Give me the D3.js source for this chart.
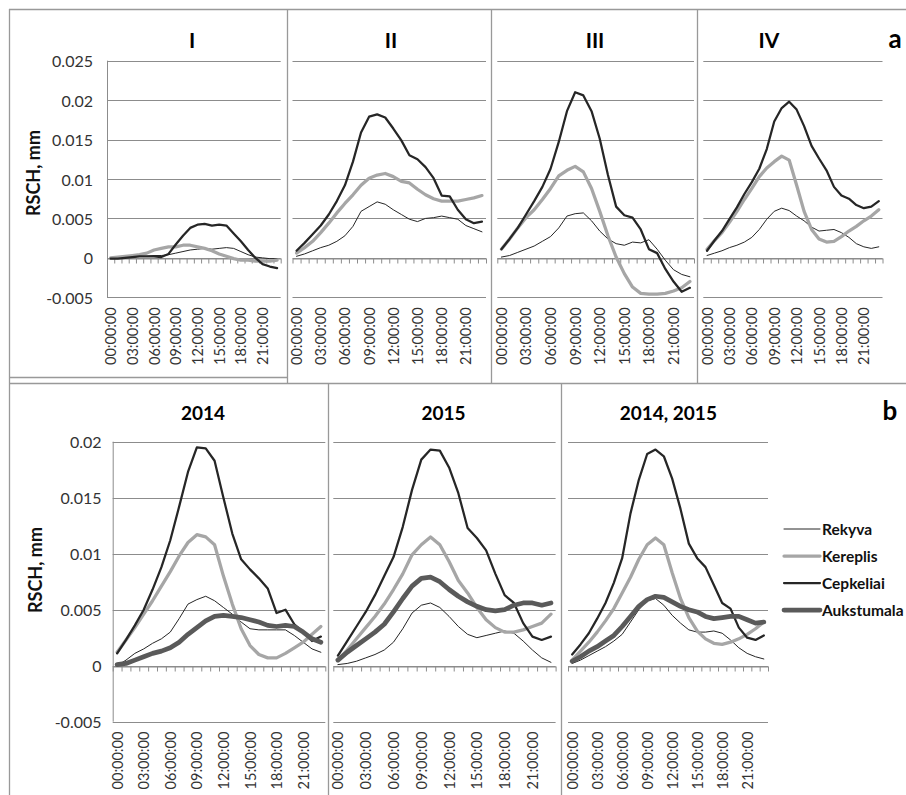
<!DOCTYPE html>
<html>
<head>
<meta charset="utf-8">
<script src="https://cdn.jsdelivr.net/npm/d3@7"></script>
<style>
  html, body { margin: 0; padding: 0; background: #fff; }
  svg { display: block; }
  text { font-family: Lato, "Open Sans", "Liberation Sans", sans-serif; }
</style>
</head>
<body>
<svg id="chart" width="906" height="795"></svg>
<script>
// Hourly categories
const hourLabels = [
  "00:00:00","01:00:00","02:00:00","03:00:00","04:00:00","05:00:00",
  "06:00:00","07:00:00","08:00:00","09:00:00","10:00:00","11:00:00",
  "12:00:00","13:00:00","14:00:00","15:00:00","16:00:00","17:00:00",
  "18:00:00","19:00:00","20:00:00","21:00:00","22:00:00","23:00:00"
];
const seriesNames = ["Rekyva", "Kereplis", "Cepkeliai", "Aukstumala"];
const topTicks = [-0.005, 0, 0.005, 0.01, 0.015, 0.02, 0.025];
const bottomTicks = [-0.005, 0, 0.005, 0.01, 0.015, 0.02];

// (a) periods I–IV
const rekyva_I    = [0,0,0.0001,0.0001,0.0002,0.0002,0.0003,0.0003,0.0004,0.0006,0.0008,0.001,0.0011,0.0012,0.0011,0.0012,0.0013,0.0012,0.0008,0.0004,0.0001,0,-0.0001,-0.0001];
const kereplis_I  = [0,0.0001,0.0002,0.0003,0.0004,0.0006,0.001,0.0012,0.0014,0.0014,0.0016,0.0016,0.0014,0.0012,0.0009,0.0005,0.0002,-0.0001,-0.0003,-0.0003,-0.0004,-0.0004,-0.0004,-0.0003];
const cepkeliai_I = [-0.0001,-0.0001,0,0.0001,0.0002,0.0002,0.0002,0.0001,0.0005,0.0017,0.0028,0.0038,0.0042,0.0043,0.0041,0.0042,0.0041,0.0031,0.0021,0.001,0,-0.0008,-0.0011,-0.0013];

const rekyva_II    = [0.0002,0.0005,0.0009,0.0013,0.0016,0.0021,0.0028,0.004,0.0059,0.0065,0.0071,0.0068,0.0061,0.0055,0.0049,0.0046,0.005,0.0051,0.0053,0.0051,0.0049,0.0041,0.0037,0.0033];
const kereplis_II  = [0.0006,0.0013,0.0021,0.0032,0.0044,0.0057,0.0069,0.008,0.0092,0.0101,0.0105,0.0107,0.0103,0.0097,0.0095,0.0087,0.008,0.0075,0.0072,0.0072,0.0072,0.0074,0.0076,0.0079];
const cepkeliai_II = [0.0009,0.0019,0.003,0.0041,0.0055,0.0072,0.0092,0.0122,0.0159,0.0179,0.0182,0.0178,0.0164,0.0149,0.013,0.0125,0.0115,0.0101,0.0079,0.0078,0.0061,0.0049,0.0044,0.0046];

const rekyva_III    = [0.0001,0.0003,0.0007,0.0011,0.0015,0.0021,0.0027,0.0038,0.0053,0.0056,0.0057,0.0047,0.0034,0.0024,0.0018,0.0016,0.002,0.0019,0.0023,0.0011,-0.0003,-0.0015,-0.0021,-0.0024];
const kereplis_III  = [0.0011,0.0024,0.0038,0.0051,0.0061,0.0074,0.0088,0.0104,0.0111,0.0116,0.0109,0.0088,0.0059,0.0028,0.0001,-0.002,-0.0037,-0.0045,-0.0046,-0.0046,-0.0045,-0.0042,-0.0038,-0.003];
const cepkeliai_III = [0.0011,0.0024,0.0038,0.0055,0.0072,0.009,0.0113,0.0147,0.0186,0.021,0.0206,0.0186,0.0151,0.0105,0.0065,0.0054,0.0051,0.0036,0.0011,0.0006,-0.0014,-0.003,-0.0043,-0.0038];

const rekyva_IV    = [0.0003,0.0006,0.0009,0.0013,0.0016,0.002,0.0026,0.0036,0.0049,0.0059,0.0063,0.006,0.0053,0.0047,0.0039,0.0034,0.0035,0.0036,0.0032,0.0026,0.0018,0.0014,0.0012,0.0014];
const kereplis_IV  = [0.0011,0.0022,0.0032,0.0045,0.0059,0.0074,0.0088,0.0103,0.0114,0.0122,0.0129,0.0124,0.0092,0.0059,0.0036,0.0024,0.002,0.0021,0.0027,0.0034,0.004,0.0047,0.0053,0.0061];
const cepkeliai_IV = [0.0009,0.0022,0.0034,0.0049,0.0064,0.0081,0.0096,0.0113,0.0138,0.0173,0.019,0.0198,0.0188,0.0167,0.0142,0.0126,0.0111,0.009,0.0079,0.0075,0.0067,0.0063,0.0065,0.0072];

// (b) years
const rekyva_2014     = [0,0.0005,0.0011,0.0015,0.002,0.0024,0.003,0.0042,0.0055,0.0059,0.0062,0.0058,0.0052,0.0046,0.0039,0.0033,0.0032,0.0032,0.0032,0.0032,0.0027,0.0021,0.0015,0.0012];
const kereplis_2014   = [0.0012,0.0023,0.0034,0.0046,0.0058,0.0071,0.0084,0.0098,0.011,0.0117,0.0115,0.0108,0.008,0.0055,0.0033,0.0018,0.001,0.0007,0.0007,0.0011,0.0016,0.0021,0.0028,0.0035];
const cepkeliai_2014  = [0.0011,0.0023,0.0036,0.005,0.0068,0.0088,0.0112,0.0142,0.0173,0.0195,0.0194,0.0183,0.015,0.0118,0.0095,0.0086,0.0078,0.0069,0.0047,0.005,0.0037,0.003,0.0022,0.0026];
const aukstumala_2014 = [0.0001,0.0002,0.0005,0.0008,0.0011,0.0013,0.0016,0.0021,0.0028,0.0034,0.004,0.0044,0.0045,0.0044,0.0043,0.0041,0.0039,0.0036,0.0035,0.0036,0.0035,0.003,0.0024,0.0021];

const rekyva_2015     = [0.0001,0.0002,0.0004,0.0007,0.001,0.0014,0.0021,0.0033,0.0047,0.0054,0.0056,0.0052,0.0044,0.0035,0.0028,0.0025,0.0027,0.0029,0.0031,0.0029,0.0022,0.0014,0.0007,0.0003];
const kereplis_2015   = [0.0005,0.0014,0.0024,0.0034,0.0044,0.0055,0.0068,0.0082,0.0099,0.0108,0.0115,0.0108,0.0093,0.0076,0.0065,0.0052,0.0041,0.0034,0.003,0.003,0.0032,0.0035,0.0038,0.0046];
const cepkeliai_2015  = [0.0009,0.0022,0.0035,0.0048,0.0063,0.008,0.0097,0.0124,0.0157,0.0184,0.0193,0.0192,0.0177,0.0154,0.0123,0.0114,0.0103,0.0082,0.0063,0.0056,0.0038,0.0026,0.0023,0.0026];
const aukstumala_2015 = [0.0005,0.0012,0.0018,0.0024,0.003,0.0037,0.0048,0.006,0.0071,0.0078,0.0079,0.0075,0.0068,0.0062,0.0057,0.0053,0.005,0.0049,0.005,0.0054,0.0056,0.0056,0.0054,0.0056];

const rekyva_2014_2015     = [0.0002,0.0005,0.0009,0.0013,0.0017,0.0022,0.0028,0.0039,0.005,0.0058,0.006,0.0054,0.0045,0.0038,0.0032,0.003,0.003,0.0031,0.0029,0.0023,0.0016,0.0011,0.0008,0.0006];
const kereplis_2014_2015   = [0.0005,0.0013,0.0021,0.003,0.004,0.0051,0.0065,0.0079,0.0095,0.0108,0.0114,0.0108,0.0083,0.006,0.0043,0.0031,0.0024,0.002,0.0019,0.0021,0.0024,0.0028,0.0033,0.0039];
const cepkeliai_2014_2015  = [0.001,0.0019,0.0029,0.0042,0.0056,0.0074,0.0096,0.0136,0.0166,0.0189,0.0193,0.0187,0.0167,0.014,0.0109,0.0096,0.0088,0.0072,0.0056,0.0051,0.0034,0.0025,0.0023,0.0027];
const aukstumala_2014_2015 = [0.0004,0.0008,0.0013,0.0017,0.0022,0.0027,0.0035,0.0044,0.0053,0.0059,0.0062,0.0061,0.0057,0.0053,0.005,0.0048,0.0044,0.0042,0.0043,0.0044,0.0044,0.0041,0.0038,0.0039];

// Line styles per station
const styles = {
  Rekyva:     { color: "#262626", width: 1 },
  Kereplis:   { color: "#a6a6a6", width: 3.25 },
  Cepkeliai:  { color: "#262626", width: 2.25 },
  Aukstumala: { color: "#5a5a5a", width: 4.75 }
};

const GRID = "#8c8c8c";
const TEXT = "#333";

const svg = d3.select("#chart");

// Panel frames
const frames = [
  [9, 9.5, 906, 9.5],
  [9.5, 9, 9.5, 795],
  [287.5, 9, 287.5, 383],
  [9, 377.5, 287.5, 377.5],
  [287, 383.5, 906, 383.5],
  [9, 383.5, 287, 383.5],
  [491.5, 9, 491.5, 383],
  [697.5, 9, 697.5, 383],
  [328.5, 383, 328.5, 795],
  [561.5, 383, 561.5, 795]
];
svg.append("g").selectAll("line").data(frames).join("line")
  .attr("x1", d => d[0]).attr("y1", d => d[1])
  .attr("x2", d => d[2]).attr("y2", d => d[3])
  .attr("stroke", "#999").attr("stroke-width", 1.3);

const topY = d3.scaleLinear().domain([-0.005, 0.025]).range([297.3, 60.7]);
const botY = d3.scaleLinear().domain([-0.005, 0.02]).range([721.7, 441.7]);

const panels = [
  { title: "I",   titleX: 192, titleY: 48, x0: 107,   x1: 280.7, y: topY, ticks: topTicks, yAxis: true, labelEnd: 93,
    series: { Rekyva: rekyva_I, Kereplis: kereplis_I, Cepkeliai: cepkeliai_I } },
  { title: "II",  titleX: 391, titleY: 48, x0: 292.5, x1: 486,   y: topY, ticks: topTicks,
    series: { Rekyva: rekyva_II, Kereplis: kereplis_II, Cepkeliai: cepkeliai_II } },
  { title: "III", titleX: 595, titleY: 48, x0: 497.3, x1: 694,   y: topY, ticks: topTicks,
    series: { Rekyva: rekyva_III, Kereplis: kereplis_III, Cepkeliai: cepkeliai_III } },
  { title: "IV",  titleX: 769, titleY: 48, x0: 703.3, x1: 882.5, y: topY, ticks: topTicks,
    series: { Rekyva: rekyva_IV, Kereplis: kereplis_IV, Cepkeliai: cepkeliai_IV } },
  { title: "2014", titleX: 203, titleY: 420, x0: 112.7, x1: 325.3, y: botY, ticks: bottomTicks, yAxis: true, labelEnd: 101.5, small: true,
    series: { Rekyva: rekyva_2014, Kereplis: kereplis_2014, Cepkeliai: cepkeliai_2014, Aukstumala: aukstumala_2014 } },
  { title: "2015", titleX: 443.5, titleY: 420, x0: 333.3, x1: 555.6, y: botY, ticks: bottomTicks, small: true,
    series: { Rekyva: rekyva_2015, Kereplis: kereplis_2015, Cepkeliai: cepkeliai_2015, Aukstumala: aukstumala_2015 } },
  { title: "2014, 2015", titleX: 668.3, titleY: 420, x0: 568, x1: 768, y: botY, ticks: bottomTicks, small: true,
    series: { Rekyva: rekyva_2014_2015, Kereplis: kereplis_2014_2015, Cepkeliai: cepkeliai_2014_2015, Aukstumala: aukstumala_2014_2015 } }
];

panels.forEach(p => {
  const g = svg.append("g");
  const x = d3.scaleBand().domain(hourLabels).range([p.x0, p.x1]).padding(0);
  const cx = d => x(d) + x.bandwidth() / 2;
  const y = p.y;
  const [yMin, yMax] = y.domain();

  // horizontal gridlines
  g.append("g").selectAll("line").data(p.ticks).join("line")
    .attr("x1", p.x0).attr("x2", p.x1)
    .attr("y1", d => Math.round(y(d)) + 0.5).attr("y2", d => Math.round(y(d)) + 0.5)
    .attr("stroke", GRID).attr("stroke-width", 1);

  // category axis at zero with tick marks between categories
  const xi = d3.scaleLinear().domain([0, hourLabels.length]).range([p.x0, p.x1]);
  const xAxis = d3.axisBottom(xi).tickValues(d3.range(hourLabels.length + 1))
    .tickSize(5).tickSizeOuter(0).tickFormat("");
  const ax = g.append("g").attr("transform", `translate(0,${Math.round(y(0)) + 0.5})`).call(xAxis);
  ax.select(".domain").attr("stroke", GRID);
  ax.selectAll(".tick line").attr("stroke", GRID);

  // hour labels below the plot area
  const labelY = y(yMin) + 10;
  g.append("g").selectAll("text")
    .data(hourLabels.filter((d, i) => i % 3 === 0)).join("text")
    .attr("transform", d => `translate(${cx(d)},${labelY}) rotate(-90)`)
    .attr("text-anchor", "end").attr("dominant-baseline", "central")
    .attr("font-size", 14.5).attr("fill", TEXT).text(d => d);

  // value axis
  if (p.yAxis) {
    g.append("line")
      .attr("x1", p.x0 + 0.5).attr("x2", p.x0 + 0.5)
      .attr("y1", y(yMax)).attr("y2", y(yMin))
      .attr("stroke", GRID);
    g.append("g").selectAll("text").data(p.ticks).join("text")
      .attr("x", p.labelEnd).attr("y", d => y(d))
      .attr("text-anchor", "end").attr("dominant-baseline", "central")
      .attr("font-size", 16).attr("fill", TEXT).text(d => String(d));
  }

  // station lines
  const line = d3.line().x((d, i) => cx(hourLabels[i])).y(d => y(d)).curve(d3.curveLinear);
  seriesNames.filter(n => p.series[n]).forEach(n => {
    g.append("path").datum(p.series[n])
      .attr("d", line).attr("fill", "none")
      .attr("stroke", styles[n].color).attr("stroke-width", styles[n].width)
      .attr("stroke-linejoin", "round").attr("stroke-linecap", "round");
  });

  // panel title
  g.append("text").attr("x", p.titleX).attr("y", p.titleY)
    .attr("text-anchor", "middle").attr("font-weight", "bold")
    .attr("font-size", p.small ? 19 : 21).attr("fill", "#000").text(p.title);
});

// axis titles
[[33, 173], [35, 570]].forEach(([ax, ay]) => {
  svg.append("text")
    .attr("transform", `translate(${ax},${ay}) rotate(-90)`)
    .attr("text-anchor", "middle").attr("dominant-baseline", "central")
    .attr("font-weight", "bold").attr("font-size", 18).attr("fill", "#111")
    .text("RSCH, mm");
});

// part letters
svg.append("text").attr("x", 895).attr("y", 48).attr("text-anchor", "middle")
  .attr("font-weight", "bold").attr("font-size", 26).text("a");
svg.append("text").attr("x", 890).attr("y", 420).attr("text-anchor", "middle")
  .attr("font-weight", "bold").attr("font-size", 26).text("b");

// legend
const legendY = d3.scalePoint().domain(seriesNames).range([529, 610]);
const lg = svg.append("g");
seriesNames.forEach(n => {
  const yy = legendY(n);
  lg.append("line").attr("x1", 784).attr("x2", 820).attr("y1", yy).attr("y2", yy)
    .attr("stroke", styles[n].color).attr("stroke-width", styles[n].width)
    .attr("stroke-linecap", "round");
  lg.append("text").attr("x", 822).attr("y", yy).attr("dominant-baseline", "central")
    .attr("font-weight", "bold").attr("font-size", 15.5).attr("fill", "#111").text(n);
});
</script>
</body>
</html>
